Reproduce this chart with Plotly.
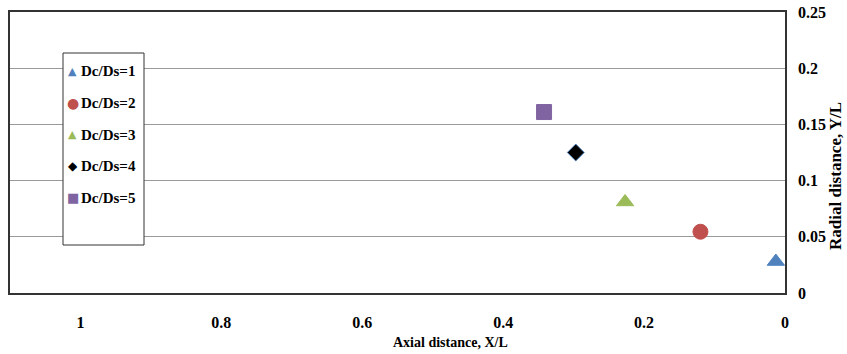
import plotly.graph_objects as go

# Data: one point per diameter ratio
labels = ["Dc/Ds=1", "Dc/Ds=2", "Dc/Ds=3", "Dc/Ds=4", "Dc/Ds=5"]
axial = [0.013, 0.12, 0.227, 0.297, 0.342]
radial = [0.028, 0.0545, 0.081, 0.125, 0.161]

symbols = ["triangle-up", "circle", "triangle-up", "diamond", "square"]
key_glyphs = ["\u25B2", "\u25CF", "\u25B2", "\u25C6", "\u25A0"]
key_sizes = [11, 14, 11, 12, 13]
colors = ["#4F81BD", "#C0504D", "#9BBB59", "#000000", "#8064A2"]
edge_colors = ["#4F81BD", "#C0504D", "#9BBB59", "#4F81BD", "#8064A2"]
plot_sizes = [15, 15, 15, 13, 15]

x_ticks = [1, 0.8, 0.6, 0.4, 0.2, 0]
y_ticks = [0, 0.05, 0.1, 0.15, 0.2, 0.25]

FONT = "Liberation Serif"

W, H = 847, 354
ML, MR, MT, MB = 10, 62, 12, 61
PW, PH = W - ML - MR, H - MT - MB


def px_x(x):
    return (x - ML) / PW


def px_y(y):
    return (H - MB - y) / PH


fig = go.Figure()

for i, name in enumerate(labels):
    fig.add_trace(go.Scatter(
        x=[axial[i]], y=[radial[i]], mode="markers", name=name,
        showlegend=False,
        marker=dict(symbol=symbols[i], size=plot_sizes[i], color=colors[i],
                    line=dict(color=edge_colors[i], width=1)),
    ))

# Legend box drawn by hand: key glyph + bold label per series
legend_rows = [71, 103, 134.5, 166, 197.5]
annotations = []
for i, name in enumerate(labels):
    annotations.append(dict(
        text=key_glyphs[i], xref="paper", yref="paper",
        x=px_x(72.5), y=px_y(legend_rows[i]), showarrow=False,
        xanchor="center", yanchor="middle",
        font=dict(family="DejaVu Sans", size=key_sizes[i], color=colors[i]),
    ))
    annotations.append(dict(
        text="<b>" + name + "</b>", xref="paper", yref="paper",
        x=px_x(79), y=px_y(legend_rows[i]), showarrow=False,
        xanchor="left", yanchor="middle",
        font=dict(family=FONT, size=15, color="black"),
    ))

annotations += [
    dict(text="<b>Axial distance, X/L</b>", xref="paper", yref="paper",
         x=px_x(450), y=px_y(342), showarrow=False,
         xanchor="center", yanchor="middle",
         font=dict(family=FONT, size=14, color="black")),
    dict(text="<b>Radial distance, Y/L</b>", xref="paper", yref="paper",
         x=px_x(835), y=px_y(176), showarrow=False,
         textangle=-90, xanchor="center", yanchor="middle",
         font=dict(family=FONT, size=17, color="black")),
]

fig.update_layout(
    width=W, height=H,
    margin=dict(l=ML, r=MR, t=MT, b=MB),
    paper_bgcolor="white", plot_bgcolor="white",
    font=dict(family=FONT, size=16, color="black"),
    showlegend=False,
    xaxis=dict(
        range=[1.1, 0], tickvals=x_ticks, ticktext=[str(v) for v in x_ticks],
        showgrid=False, zeroline=False, showline=True, linecolor="#333333",
        linewidth=1.5, mirror=True, ticks="", automargin=False,
        tickfont=dict(family=FONT, size=16, weight="bold"),
        ticklabelstandoff=14,
    ),
    yaxis=dict(
        range=[0, 0.25], side="right", tickvals=y_ticks,
        ticktext=["0", "0.05", "0.1", "0.15", "0.2", "0.25"],
        showgrid=True, gridcolor="#9a9a9a", gridwidth=1, zeroline=False,
        showline=True, linecolor="#333333", linewidth=1.5, mirror=True,
        ticks="", automargin=False,
        tickfont=dict(family=FONT, size=16, weight="bold"),
        ticklabelstandoff=8,
    ),
    shapes=[dict(
        type="rect", xref="paper", yref="paper",
        x0=px_x(63), x1=px_x(144), y0=px_y(245), y1=px_y(53),
        line=dict(color="#333333", width=1), fillcolor="white", layer="above",
    )],
    annotations=annotations,
)

fig.write_html("out.html")
